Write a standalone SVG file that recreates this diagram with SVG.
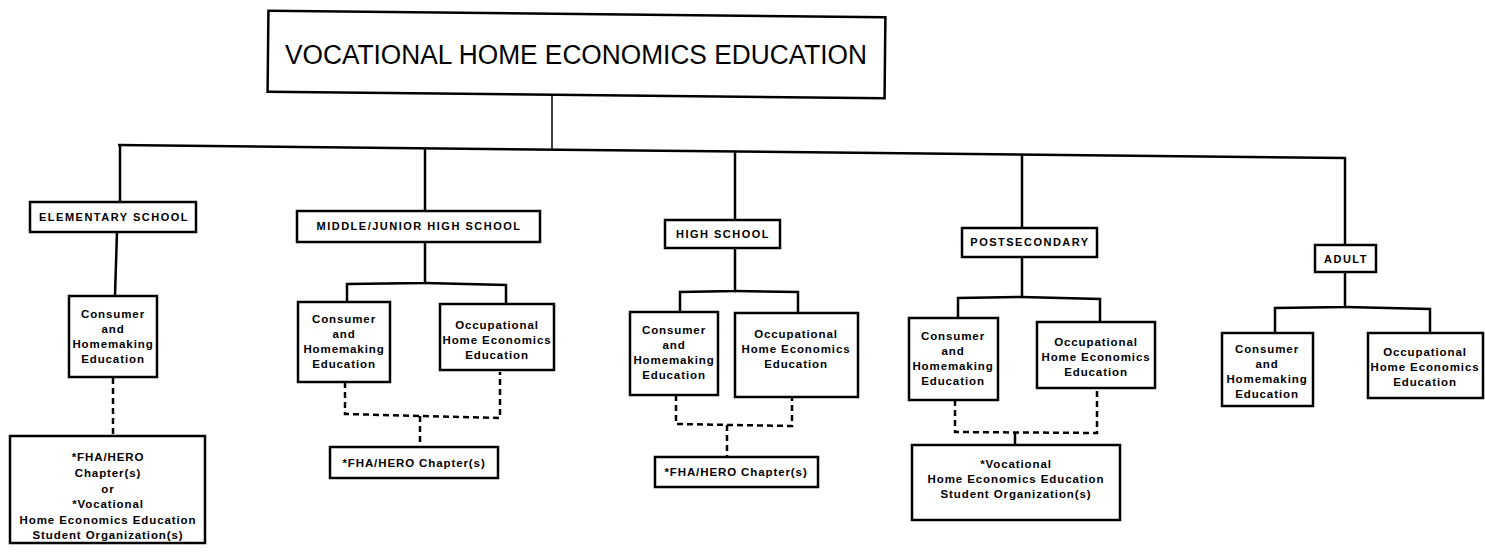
<svg xmlns="http://www.w3.org/2000/svg" width="1485" height="553" viewBox="0 0 1485 553">
<style>
.box{fill:#fff;stroke:#000;stroke-width:2.5}
.ln{fill:none;stroke:#000;stroke-width:2.5}
.th{fill:none;stroke:#000;stroke-width:1.5}
.ds{fill:none;stroke:#000;stroke-width:2.5;stroke-dasharray:6 4}
.t{font-family:"Liberation Sans",Arial,sans-serif;font-weight:bold;font-size:11.5px;letter-spacing:0.9px;text-anchor:middle;fill:#000}
.h{font-family:"Liberation Sans",Arial,sans-serif;font-weight:bold;font-size:11px;letter-spacing:1.5px;text-anchor:middle;fill:#000}
.title{font-family:"Liberation Sans",Arial,sans-serif;font-size:27px;text-anchor:middle;fill:#000}
</style>
<rect width="1485" height="553" fill="#fff"/>
<g id="connectors">
<line class="th" x1="552" y1="95" x2="552" y2="149"/>
<line class="ln" x1="118" y1="145" x2="1346" y2="158"/>
<line class="ln" x1="120" y1="145" x2="120" y2="202"/>
<line class="ln" x1="425" y1="149" x2="425" y2="211"/>
<line class="ln" x1="735" y1="152" x2="735" y2="220"/>
<line class="ln" x1="1022" y1="155" x2="1022" y2="228"/>
<line class="ln" x1="1345" y1="158" x2="1345" y2="245"/>
<line class="ln" x1="117" y1="232" x2="115" y2="296"/>
<polyline class="ln" points="425,242 425,283 347,284 347,302"/>
<polyline class="ln" points="425,283 506,285 506,304"/>
<polyline class="ln" points="735,248 735,291 680,292 680,312"/>
<polyline class="ln" points="735,291 798,292 798,313"/>
<polyline class="ln" points="1022,257 1022,297 958,298 958,318"/>
<polyline class="ln" points="1022,297 1100,299 1100,322"/>
<polyline class="ln" points="1345,272 1345,307 1275,308 1275,333"/>
<polyline class="ln" points="1345,307 1430,309 1430,333"/>
<line class="ds" x1="113" y1="378" x2="113" y2="436"/>
<polyline class="ds" points="345,382 345,414 500,418 500,372"/>
<line class="ds" x1="420" y1="416" x2="420" y2="447"/>
<polyline class="ds" points="676,395 676,424 792,426 792,398"/>
<line class="ds" x1="727" y1="425" x2="727" y2="457"/>
<polyline class="ds" points="955,400 955,432 1097,433 1097,388"/>
<line class="ln" x1="1015" y1="432" x2="1015" y2="445"/>
</g>
<g id="root"><rect class="box" x="268" y="14" width="617" height="81" transform="rotate(0.6 576 54)"/><text class="title" x="576" y="64" textLength="582" lengthAdjust="spacingAndGlyphs">VOCATIONAL HOME ECONOMICS EDUCATION</text></g>
<g id="elem"><rect class="box" x="30" y="202" width="166" height="30"/><text class="h" x="114" y="221">ELEMENTARY SCHOOL</text></g>
<g id="middle"><rect class="box" x="297" y="211" width="243" height="31"/><text class="h" x="419" y="230">MIDDLE/JUNIOR HIGH SCHOOL</text></g>
<g id="high"><rect class="box" x="665" y="220" width="115" height="28"/><text class="h" x="723" y="238">HIGH SCHOOL</text></g>
<g id="post"><rect class="box" x="962" y="228" width="135" height="29"/><text class="h" x="1030" y="246">POSTSECONDARY</text></g>
<g id="adult"><rect class="box" x="1315" y="245" width="61" height="27"/><text class="h" x="1346" y="263">ADULT</text></g>
<g id="elem-cons"><rect class="box" x="69" y="296" width="88" height="81"/><text class="t" x="113" y="318">Consumer</text><text class="t" x="113" y="333">and</text><text class="t" x="113" y="348">Homemaking</text><text class="t" x="113" y="363">Education</text></g>
<g id="elem-org"><rect class="box" x="10" y="436" width="195" height="107"/><text class="t" x="108" y="461">*FHA/HERO</text><text class="t" x="108" y="477">Chapter(s)</text><text class="t" x="108" y="493">or</text><text class="t" x="108" y="508">*Vocational</text><text class="t" x="108" y="524">Home Economics Education</text><text class="t" x="108" y="539">Student Organization(s)</text></g>
<g id="mid-cons"><rect class="box" x="298" y="302" width="92" height="80"/><text class="t" x="344" y="323">Consumer</text><text class="t" x="344" y="338">and</text><text class="t" x="344" y="353">Homemaking</text><text class="t" x="344" y="368">Education</text></g>
<g id="mid-occ"><rect class="box" x="440" y="304" width="114" height="66"/><text class="t" x="497" y="329">Occupational</text><text class="t" x="497" y="344">Home Economics</text><text class="t" x="497" y="359">Education</text></g>
<g id="mid-org"><rect class="box" x="330" y="447" width="168" height="31"/><text class="t" x="414" y="467">*FHA/HERO Chapter(s)</text></g>
<g id="high-cons"><rect class="box" x="630" y="312" width="88" height="83"/><text class="t" x="674" y="334">Consumer</text><text class="t" x="674" y="349">and</text><text class="t" x="674" y="364">Homemaking</text><text class="t" x="674" y="379">Education</text></g>
<g id="high-occ"><rect class="box" x="735" y="313" width="123" height="84"/><text class="t" x="796" y="338">Occupational</text><text class="t" x="796" y="353">Home Economics</text><text class="t" x="796" y="368">Education</text></g>
<g id="high-org"><rect class="box" x="655" y="457" width="163" height="30"/><text class="t" x="736" y="476">*FHA/HERO Chapter(s)</text></g>
<g id="post-cons"><rect class="box" x="909" y="318" width="89" height="82"/><text class="t" x="953" y="340">Consumer</text><text class="t" x="953" y="355">and</text><text class="t" x="953" y="370">Homemaking</text><text class="t" x="953" y="385">Education</text></g>
<g id="post-occ"><rect class="box" x="1037" y="322" width="118" height="66"/><text class="t" x="1096" y="346">Occupational</text><text class="t" x="1096" y="361">Home Economics</text><text class="t" x="1096" y="376">Education</text></g>
<g id="post-org"><rect class="box" x="912" y="445" width="208" height="75"/><text class="t" x="1016" y="468">*Vocational</text><text class="t" x="1016" y="483">Home Economics Education</text><text class="t" x="1016" y="498">Student Organization(s)</text></g>
<g id="adult-cons"><rect class="box" x="1222" y="333" width="91" height="73"/><text class="t" x="1267" y="353">Consumer</text><text class="t" x="1267" y="368">and</text><text class="t" x="1267" y="383">Homemaking</text><text class="t" x="1267" y="398">Education</text></g>
<g id="adult-occ"><rect class="box" x="1368" y="333" width="115" height="65"/><text class="t" x="1425" y="356">Occupational</text><text class="t" x="1425" y="371">Home Economics</text><text class="t" x="1425" y="386">Education</text></g>
</svg>
